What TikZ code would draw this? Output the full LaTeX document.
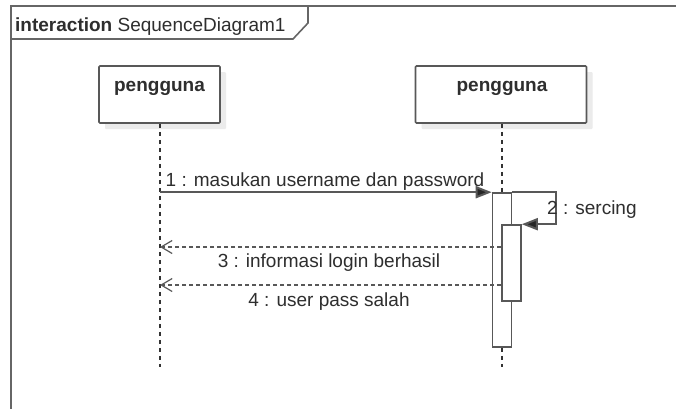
\documentclass[tikz,border=0pt]{standalone}
\usepackage{fontspec}
\setmainfont{Liberation Sans}
\usetikzlibrary{arrows.meta,shadows}
\definecolor{ln}{HTML}{585858}
\definecolor{fr}{HTML}{666666}
\definecolor{tx}{HTML}{2E2E2E}
\begin{document}
\begin{tikzpicture}[x=1pt,y=-1pt,
  every node/.style={font=\fontsize{19}{22}\selectfont, text=tx},
  lifebox/.style={draw=ln, line width=1.6pt, fill=white, rounded corners=1pt, inner sep=0pt,
    drop shadow={shadow xshift=6pt, shadow yshift=-6pt, fill=black!8, draw=none, opacity=1}},
  boxtext/.style={font=\fontsize{19}{22}\selectfont\bfseries, anchor=base},
  act/.style={draw=ln, line width=1.6pt, fill=white, inner sep=0pt, minimum width=19pt},
  lifeline/.style={draw=black!80, line width=1.2pt, dash pattern=on 4pt off 4pt},
  msg/.style={draw=ln, line width=2pt, -{Triangle[length=16pt,width=12pt,fill=black!85]}},
  ret/.style={draw=ln, line width=1.5pt, dash pattern=on 4pt off 3pt, -{Straight Barb[length=11pt,width=13pt,line width=1.2pt]}},
  lbl/.style={anchor=base, inner sep=0pt},
  frameline/.style={draw=fr, line width=2pt}]
\useasboundingbox (0,0) rectangle (676,408);
\clip (0,0) rectangle (676,408);
\fill[white] (0,0) rectangle (676,408);

% frame
\draw[frameline] (11,430) -- (11,6) -- (700,6);
\draw[frameline, line width=1.6pt] (11,39) -- (293,39) -- (308,23) -- (308,6);
\node[anchor=base west, inner sep=0pt] (title) at (15,31) {\textbf{interaction} SequenceDiagram1};

% lifeline heads
\node[lifebox, minimum width=121pt, minimum height=57pt] (b1) at (159.5,94.5) {};
\node[lifebox, minimum width=171pt, minimum height=57pt] (b2) at (501,94.5) {};
\node[boxtext] (t1) at (159.5,91) {pengguna};
\node[boxtext] (t2) at (502,91) {pengguna};

% lifelines
\coordinate (e1) at (160,367);
\coordinate (e2) at (502,367);
\draw[lifeline] (b1.south -| e1) -- (e1);
\draw[lifeline] (b2.south -| e2) -- (e2);

% activations
\node[act, minimum height=154pt] (a1) at (502,270) {};
\node[act, minimum height=76pt] (a2) at (511.5,263) {};

% messages
\coordinate (m3) at (0,247);
\coordinate (m4) at (0,285);
\draw[msg] (e1 |- a1.north west) -- (a1.north west);
\draw[msg] (a1.north east) -- ++(44,0) |- (a2.north east);
\draw[ret] (a2.west |- m3) -- (e1 |- m3);
\draw[ret] (a2.west |- m4) -- (e1 |- m4);

% labels
\node[lbl] (l1) at (325,186) {1 : masukan username dan password};
\node[lbl, anchor=base west] (l2) at (547,214) {2 : sercing};
\node[lbl] (l3) at (329,267) {3 : informasi login berhasil};
\node[lbl] (l4) at (329,306) {4 : user pass salah};
\end{tikzpicture}
\end{document}
